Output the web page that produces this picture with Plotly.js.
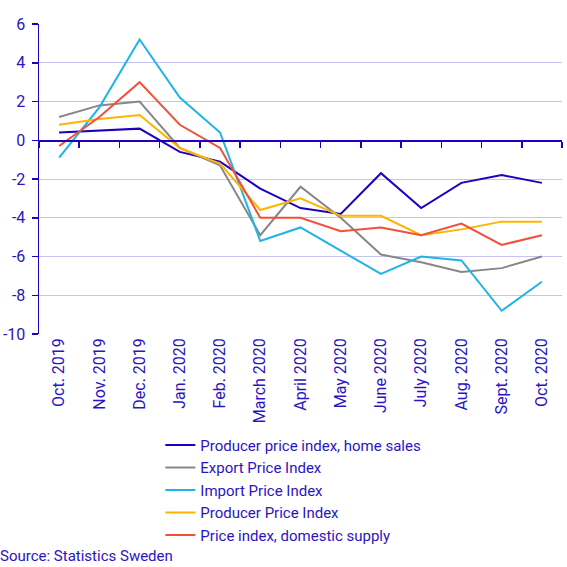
<!DOCTYPE html>
<html>
<head>
<meta charset="utf-8">
<script src="https://cdn.plot.ly/plotly-3.0.1.min.js"></script>
<style>html,body{margin:0;padding:0;background:#fff}#chart{width:567px;height:567px}</style>
</head>
<body>
<div id="chart"></div>
<script>
const months = ["Oct. 2019","Nov. 2019","Dec. 2019","Jan. 2020","Feb. 2020","March 2020","April 2020","May 2020","June 2020","July 2020","Aug. 2020","Sept. 2020","Oct. 2020"];
const ppiHomeSales = [0.4, 0.5, 0.6, -0.6, -1.1, -2.5, -3.5, -3.8, -1.7, -3.5, -2.2, -1.8, -2.2];
const exportPI     = [1.2, 1.8, 2.0, -0.4, -1.3, -4.9, -2.4, -4.0, -5.9, -6.3, -6.8, -6.6, -6.0];
const importPI     = [-0.9, 1.7, 5.2, 2.2, 0.4, -5.2, -4.5, -5.7, -6.9, -6.0, -6.2, -8.8, -7.3];
const producerPI   = [0.8, 1.1, 1.3, -0.4, -1.2, -3.6, -3.0, -3.9, -3.9, -4.9, -4.6, -4.2, -4.2];
const domesticPI   = [-0.3, 1.2, 3.0, 0.8, -0.4, -4.0, -4.0, -4.7, -4.5, -4.9, -4.3, -5.4, -4.9];
const yTickVals = [-10, -8, -6, -4, -2, 0, 2, 4, 6];
const yTickText = ["-10", "-8", "-6", "-4", "-2", "0", "2", "4", "6"];
const seriesNames = ["Producer price index, home sales","Export Price Index","Import Price Index","Producer Price Index","Price index, domestic supply"];
const seriesData = [ppiHomeSales, exportPI, importPI, producerPI, domesticPI];
const seriesColors = ["#1e00be","#878787","#1eb4e6","#ffb400","#f0503c"];
const textColor = "#2a14c4";
const font = "Roboto, 'Noto Sans', sans-serif";

const idx = months.map((m,i)=>i);
const traces = seriesData.map((d,i)=>({
  type:"scatter", mode:"lines", x: idx, y: d, name: seriesNames[i],
  line:{color: seriesColors[i], width: 2}
}));
traces.push({type:"scatter", mode:"lines", x: [], y: [], xaxis:"x2", showlegend:false, hoverinfo:"skip"});

const layout = {
  width:567, height:567,
  margin:{l:39, r:5, t:24, b:233},
  paper_bgcolor:"#fff", plot_bgcolor:"#fff",
  font:{family:font, size:15, color:textColor},
  showlegend:true,
  xaxis:{
    range:[-0.5, 12.5], tickvals: idx, ticktext: months, tickangle:-90,
    showgrid:false, zeroline:false, showline:false, ticks:"",
    tickfont:{family:font, size:16, color:textColor}
  },
  xaxis2:{
    overlaying:"x", anchor:"free", position:0.625,
    range:[-0.5, 12.5], tick0:-0.5, dtick:1, showticklabels:false,
    showgrid:false, zeroline:false, showline:true, linecolor:"#1e00be", linewidth:1.5,
    ticks:"outside", ticklen:6, tickwidth:1.5, tickcolor:"#1e00be"
  },
  yaxis:{
    range:[-10, 6], tickvals: yTickVals, ticktext: yTickText,
    showgrid:true, gridcolor:"#c4c4f2", gridwidth:1,
    zeroline:false, showline:true, linecolor:"#1e00be", linewidth:1.5,
    ticks:"outside", ticklen:6, tickwidth:1.5, tickcolor:"#1e00be",
    ticklabelstandoff:3,
    tickfont:{family:font, size:16, color:textColor}
  },
  legend:{
    x:0.232, y:-0.306, xanchor:"left", yanchor:"top", orientation:"v",
    font:{family:font, size:15, color:textColor}, bgcolor:"rgba(0,0,0,0)",
    itemwidth:30, tracegroupgap:0
  },
  annotations:[{
    text:"Source: Statistics Sweden", xref:"paper", yref:"paper",
    x:-41/523, y:(334-556)/310, xanchor:"left", yanchor:"middle", showarrow:false,
    font:{family:font, size:15, color:textColor}
  }]
};
Plotly.newPlot("chart", traces, layout, {displayModeBar:false, staticPlot:true});
</script>
</body>
</html>
